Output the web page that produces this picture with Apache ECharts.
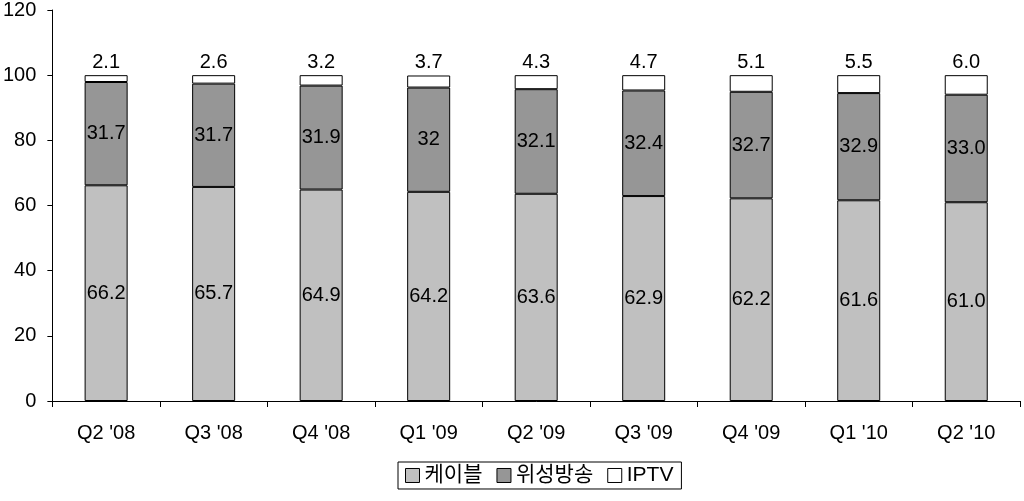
<!DOCTYPE html>
<html><head><meta charset="utf-8">
<script src="https://cdn.jsdelivr.net/npm/echarts@6/dist/echarts.min.js"></script>
<style>html,body{margin:0;padding:0;background:#fff}#c{width:1024px;height:501px}</style>
</head><body><div id="c"></div>
<script>
const categories = ["Q2 '08","Q3 '08","Q4 '08","Q1 '09","Q2 '09","Q3 '09","Q4 '09","Q1 '10","Q2 '10"];
const cable = ["66.2","65.7","64.9","64.2","63.6","62.9","62.2","61.6","61.0"];
const satellite = ["31.7","31.7","31.9","32","32.1","32.4","32.7","32.9","33.0"];
const iptv = ["2.1","2.6","3.2","3.7","4.3","4.7","5.1","5.5","6.0"];
const seriesNames = ["케이블","위성방송","IPTV"];

const FONT = "'Liberation Sans','Noto Sans CJK KR',sans-serif";
const chart = echarts.init(document.getElementById('c'));
function mk(name, arr, color, pos) {
  return {
    name: name, type: 'bar', stack: 'all', barWidth: '40%',
    data: arr.map(Number),
    itemStyle: {color: color, borderColor: '#000', borderWidth: 1},
    label: {show: true, position: pos, distance: 3, color: '#000', fontSize: 20, fontFamily: FONT,
      formatter: p => arr[p.dataIndex]},
    emphasis: {disabled: true}
  };
}
chart.setOption({
  animation: false,
  backgroundColor: '#fff',
  grid: {left: 51, right: 4, top: 8, bottom: 100, containLabel: false},
  legend: {
    left: 398, top: 462, icon: 'rect', itemWidth: 14, itemHeight: 14, itemGap: 14,
    borderColor: '#000', borderWidth: 1, padding: [3, 8, 3, 7],
    textStyle: {fontSize: 21, fontFamily: FONT, color: '#000', padding: [0,0,0,0]},
    data: seriesNames.map(n => ({name: n, itemStyle: {borderColor: '#000', borderWidth: 1}}))
  },
  xAxis: {
    type: 'category', data: categories,
    axisLine: {lineStyle: {color: '#000', width: 1}},
    axisTick: {show: true, alignWithLabel: false, length: 6, lineStyle: {color: '#000'}},
    axisLabel: {fontSize: 20, fontFamily: FONT, color: '#000', margin: 22}
  },
  yAxis: {
    type: 'value', min: 0, max: 120, interval: 20,
    axisLine: {show: true, lineStyle: {color: '#000', width: 1}},
    axisTick: {show: true, length: 5, lineStyle: {color: '#000'}},
    splitLine: {show: false},
    axisLabel: {fontSize: 20, fontFamily: FONT, color: '#000', margin: 16}
  },
  series: [
    mk(seriesNames[0], cable, '#c0c0c0', 'inside'),
    mk(seriesNames[1], satellite, '#969696', 'inside'),
    mk(seriesNames[2], iptv, '#ffffff', 'top')
  ]
});
</script></body></html>
